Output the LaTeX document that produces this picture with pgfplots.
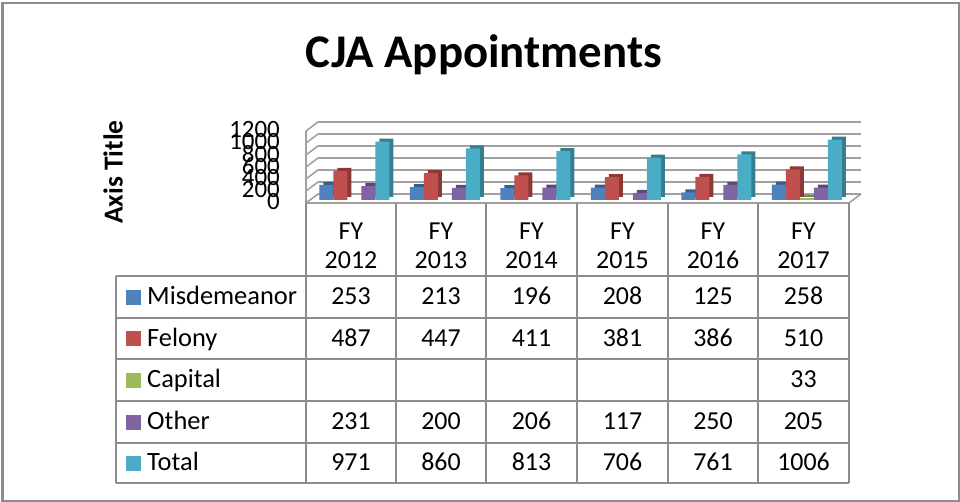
\documentclass[border=0pt]{standalone}
\usepackage{pgfplots}
\pgfplotsset{compat=1.18}
\usepackage{fontspec}
\setmainfont{Carlito}
\definecolor{cBlue}{HTML}{4F81BD}
\definecolor{cRed}{HTML}{C0504D}
\definecolor{cGreen}{HTML}{9BBB59}
\definecolor{cPurple}{HTML}{8064A2}
\definecolor{cCyan}{HTML}{4BACC6}
\definecolor{dBlue}{HTML}{385D8A}
\definecolor{dRed}{HTML}{8C3836}
\definecolor{dGreen}{HTML}{71893F}
\definecolor{dPurple}{HTML}{5C4776}
\definecolor{dCyan}{HTML}{357D91}
\definecolor{gridc}{HTML}{A0A0A0}
\definecolor{tabc}{HTML}{8C8C8C}
\begin{document}
\begin{tikzpicture}
\begin{scope}[x=1bp,y=1bp]
\useasboundingbox (0,0) rectangle (960,502);
\draw[tabc, line width=2bp] (2.5,1) rectangle (958.5,498.5);
% title
\node[anchor=base, font=\fontsize{47}{55}\selectfont\bfseries] at (484,434) {CJA Appointments};
\node[rotate=90, font=\fontsize{27.5}{30}\selectfont\bfseries] at (113,330) {Axis Title};
\end{scope}
% back wall grid
\begin{axis}[at={(318bp,308bp)}, anchor=south west, scale only axis,
  width=543bp, height=72bp, xmin=0, xmax=6, ymin=0, ymax=1200,
  ytick={0,200,...,1200}, xtick=\empty, yticklabels={}, major tick length=0pt,
  axis line style={draw=none}, ymajorgrids, grid style={gridc, line width=1.6bp}]
\end{axis}
\begin{scope}[x=1bp,y=1bp]
% left wall and floor
\foreach \v in {0,200,...,1200}
  \draw[gridc, line width=1.6bp] (306,{299+0.06*\v}) -- (318,{308+0.06*\v});
\draw[gridc, line width=1.6bp] (306,299) -- (306,371);
\end{scope}
% bars
\begin{axis}[at={(309bp,302bp)}, anchor=south west, scale only axis,
  width=543bp, height=72bp, xmin=-0.5, xmax=5.5, ymin=0, ymax=1200,
  ytick={0,200,...,1200}, xtick=\empty, major tick length=0pt,
  axis line style={draw=none}, ybar, bar width=14bp, clip=false,
  /pgf/number format/assume math mode=true, /pgf/number format/1000 sep={},
  yticklabel style={font=\fontsize{25}{25}\selectfont, anchor=east, inner sep=0pt, xshift=-29bp, yshift=-2bp}]
\addplot[fill=dBlue, draw=none, bar shift=-24bp, yshift=3bp] coordinates {(0,253) (1,213) (2,196) (3,208) (4,125) (5,258)};
\addplot[fill=cBlue, draw=none, bar shift=-28bp] coordinates {(0,253) (1,213) (2,196) (3,208) (4,125) (5,258)};
\addplot[fill=dRed, draw=none, bar shift=-10bp, yshift=3bp] coordinates {(0,487) (1,447) (2,411) (3,381) (4,386) (5,510)};
\addplot[fill=cRed, draw=none, bar shift=-14bp] coordinates {(0,487) (1,447) (2,411) (3,381) (4,386) (5,510)};
\addplot[fill=dGreen, draw=none, bar shift=4bp, yshift=3bp] coordinates {(5,33)};
\addplot[fill=cGreen, draw=none, bar shift=0bp] coordinates {(5,33)};
\addplot[fill=dPurple, draw=none, bar shift=18bp, yshift=3bp] coordinates {(0,231) (1,200) (2,206) (3,117) (4,250) (5,205)};
\addplot[fill=cPurple, draw=none, bar shift=14bp] coordinates {(0,231) (1,200) (2,206) (3,117) (4,250) (5,205)};
\addplot[fill=dCyan, draw=none, bar shift=32bp, yshift=3bp] coordinates {(0,971) (1,860) (2,813) (3,706) (4,761) (5,1006)};
\addplot[fill=cCyan, draw=none, bar shift=28bp] coordinates {(0,971) (1,860) (2,813) (3,706) (4,761) (5,1006)};
\end{axis}
\begin{scope}[x=1bp,y=1bp]
\draw[gridc, line width=1.6bp] (306,299) -- (849,299) -- (861,308);
% table lines
\foreach \y in {226,184,143,101,59,19}
  \draw[tabc, line width=2bp] (116,\y) -- (849,\y);
\draw[tabc, line width=2bp] (116,226) -- (116,19);
\foreach \x in {306,396,486,577,668,758,849}
  \draw[tabc, line width=2bp] (\x,299) -- (\x,19);
% header
\foreach \x/\yr in {351/2012,441/2013,531.5/2014,622.5/2015,713/2016,803.5/2017} {
  \node[anchor=base, font=\fontsize{26}{30}\selectfont] at (\x,262) {FY};
  \node[anchor=base, font=\fontsize{26}{30}\selectfont] at (\x,233) {\yr};
}
% legend column
\foreach \c/\t/\b in {cBlue/Misdemeanor/197, cRed/Felony/155.5, cGreen/Capital/114, cPurple/Other/72, cCyan/Total/31} {
  \fill[\c] (126,\b) rectangle (141,\b+15);
  \node[anchor=base west, inner sep=0pt, font=\fontsize{26.5}{30}\selectfont] at (147,\b) {\t};
}
% values
\foreach \x/\a/\bb/\d/\e in {351/253/487/231/971, 441/213/447/200/860, 531.5/196/411/206/813, 622.5/208/381/117/706, 713/125/386/250/761} {
  \node[anchor=base, font=\fontsize{26}{30}\selectfont] at (\x,197) {\a};
  \node[anchor=base, font=\fontsize{26}{30}\selectfont] at (\x,155.5) {\bb};
  \node[anchor=base, font=\fontsize{26}{30}\selectfont] at (\x,72) {\d};
  \node[anchor=base, font=\fontsize{26}{30}\selectfont] at (\x,31) {\e};
}
\node[anchor=base, font=\fontsize{26}{30}\selectfont] at (803.5,197) {258};
\node[anchor=base, font=\fontsize{26}{30}\selectfont] at (803.5,155.5) {510};
\node[anchor=base, font=\fontsize{26}{30}\selectfont] at (803.5,114) {33};
\node[anchor=base, font=\fontsize{26}{30}\selectfont] at (803.5,72) {205};
\node[anchor=base, font=\fontsize{26}{30}\selectfont] at (803.5,31) {1006};
\end{scope}
\end{tikzpicture}
\end{document}
